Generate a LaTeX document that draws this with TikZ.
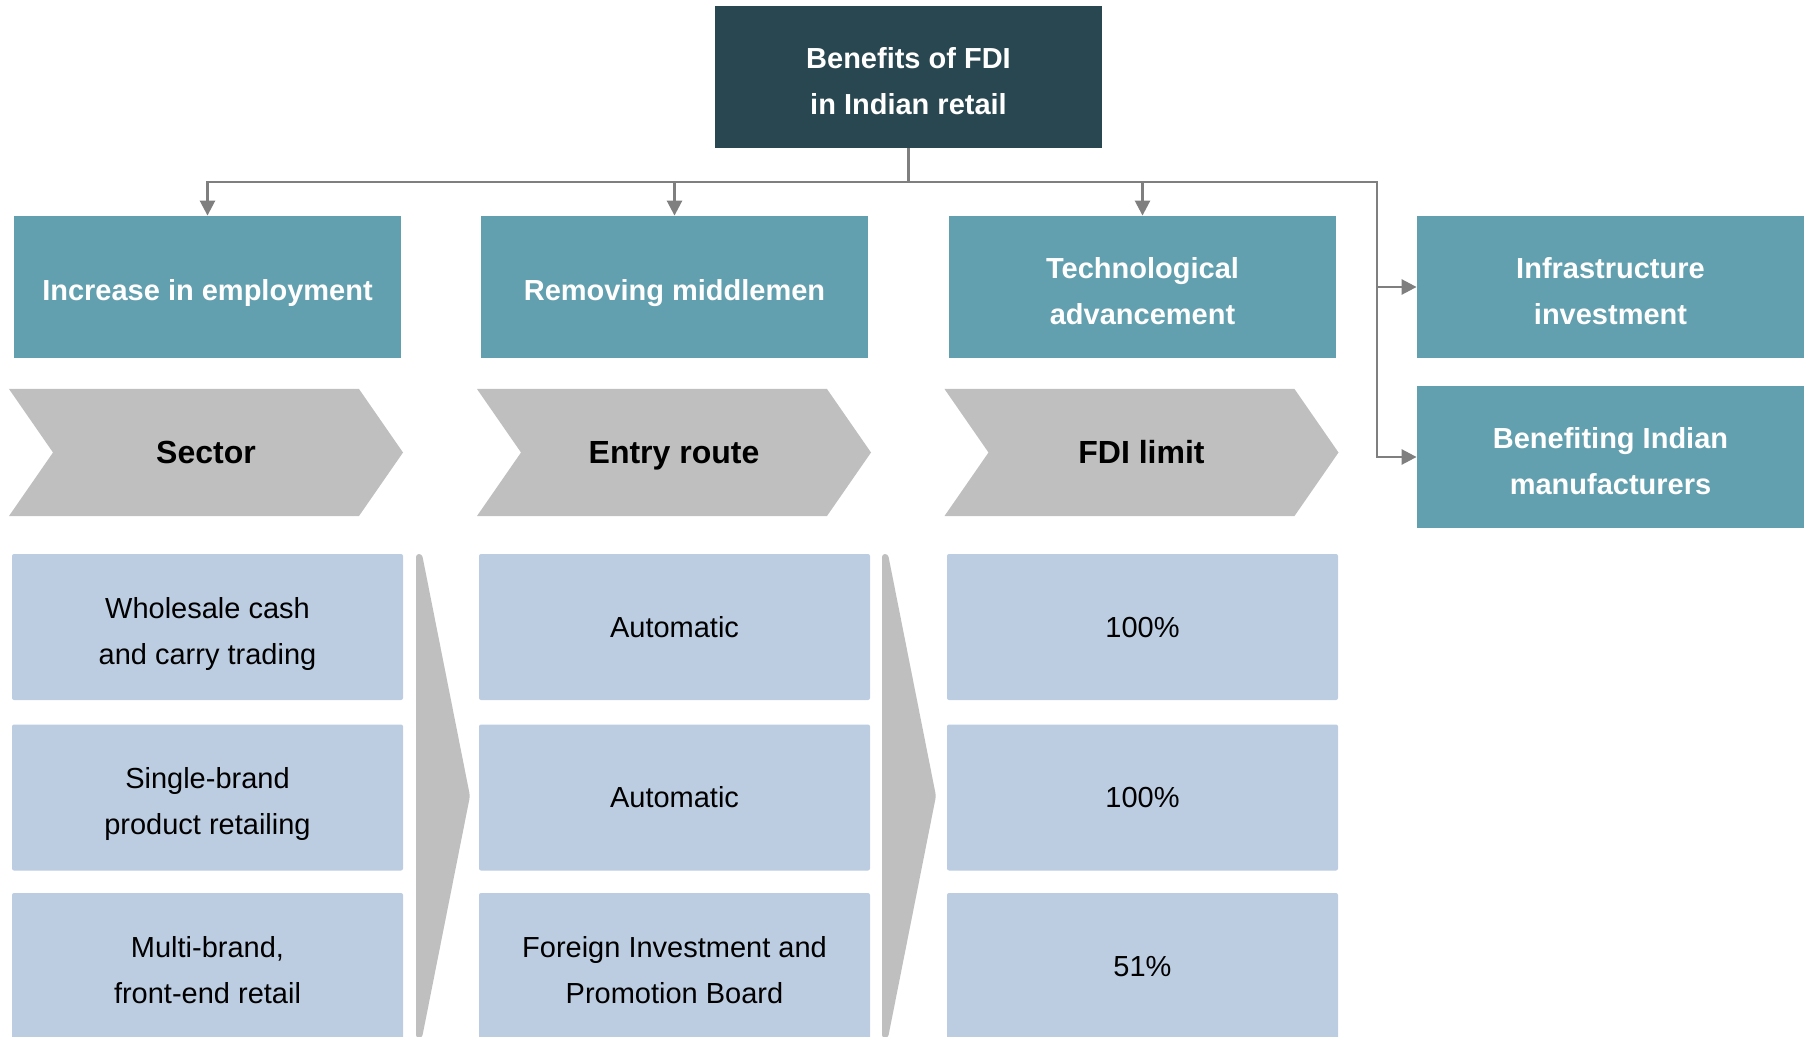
\documentclass[tikz,border=0pt]{standalone}
\usepackage{fontspec}
\setmainfont{Liberation Sans}
\usetikzlibrary{arrows.meta}

\definecolor{darkteal}{RGB}{41,71,80}
\definecolor{boxteal}{RGB}{98,160,175}
\definecolor{chevgray}{RGB}{191,191,191}
\definecolor{cellblue}{RGB}{188,205,226}
\definecolor{linegray}{RGB}{127,127,127}

\tikzset{
  titlebox/.style={fill=darkteal, text=white, align=center, inner sep=0pt,
    minimum width=193.5pt, minimum height=71pt,
    font=\bfseries\fontsize{14.5}{23}\selectfont},
  benefit/.style={fill=boxteal, text=white, align=center, inner sep=0pt,
    minimum width=193.5pt, minimum height=71pt,
    font=\bfseries\fontsize{14.5}{23}\selectfont},
  chevtext/.style={inner sep=0pt, text height=11.5pt, text depth=0pt,
    font=\bfseries\fontsize{16}{23}\selectfont},
  cell/.style={fill=cellblue, rounded corners=1pt, align=center, inner sep=0pt,
    minimum width=195.5pt, minimum height=73pt,
    font=\fontsize{14.5}{23}\selectfont},
  oneline/.style={text height=10.4pt, text depth=0pt},
  onelow/.style={text height=13.7pt, text depth=0pt},
  twoline/.style={text height=37.4pt, text depth=0pt},
  conn/.style={draw=linegray, line width=1.3pt},
  tip/.style={-{Triangle[length=7.5pt,width=7.5pt]}}
}

\begin{document}
\begin{tikzpicture}[x=0.5pt, y=-0.5pt]
\useasboundingbox (0,0) rectangle (1810,1037);
\clip (0,0) rectangle (1810,1037);

%top
\node[titlebox, twoline] (top) at (908.5,77) {Benefits of FDI\\in Indian retail};

\node[benefit, onelow] (emp) at (207.5,287) {Increase in employment};
\node[benefit, onelow] (mid) at (674.5,287) {Removing middlemen};
\node[benefit, twoline] (tech) at (1142.5,287) {Technological\\advancement};
\node[benefit, twoline] (infra) at (1610.5,287) {Infrastructure\\investment};
\node[benefit, twoline] (manu) at (1610.5,457) {Benefiting Indian\\manufacturers};

\coordinate (bus) at (908.5,182);
\coordinate (rbus) at (1377,182);
\draw[conn] (top.south) -- (bus);
\draw[conn, tip] (bus) -| (emp.north);
\draw[conn, tip] (bus) -| (mid.north);
\draw[conn, tip] (bus) -| (tech.north);
\draw[conn, tip] (bus) -- (rbus) |- (infra.west);
\draw[conn, tip] (rbus) |- (manu.west);

% header chevrons
\foreach \x/\name/\txt in {206/sector/Sector, 674/route/Entry route, 1141.5/limit/FDI limit}
{
  \fill[chevgray] (\x-197,389) -- (\x+153,389) -- (\x+197,452.5) -- (\x+153,516)
    -- (\x-197,516) -- (\x-153,452.5) -- cycle;
  \node[chevtext] (\name) at (\x,452.5) {\txt};
}

% vertical arrows between columns
\foreach \s in {0,466}
  \fill[chevgray, rounded corners=1.5pt] (416+\s,554) -- (422+\s,554) -- (470+\s,796)
    -- (422+\s,1038) -- (416+\s,1038) -- cycle;

\node[cell, twoline] (s1) at (207.5,627) {Wholesale cash\\and carry trading};
\node[cell, twoline] (s2) at (207.5,797.5) {Single-brand\\product retailing};
\node[cell, twoline] (s3) at (207.5,966) {Multi-brand,\\front-end retail};

\node[cell, oneline] (r1) at (674.5,627) {Automatic};
\node[cell, oneline] (r2) at (674.5,797.5) {Automatic};
\node[cell, twoline] (r3) at (674.5,966) {Foreign Investment and\\Promotion Board};

\node[cell, oneline] (l1) at (1142.5,627) {100\%};
\node[cell, oneline] (l2) at (1142.5,797.5) {100\%};
\node[cell, oneline] (l3) at (1142.5,966) {51\%};
\end{tikzpicture}
\end{document}
